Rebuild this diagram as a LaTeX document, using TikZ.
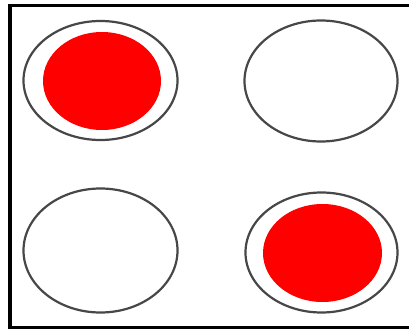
\documentclass[tikz,border=0pt]{standalone}
\usetikzlibrary{shapes.geometric}
\begin{document}
\begin{tikzpicture}[x=1pt,y=-1pt,
  ring/.style={ellipse,draw=black!72,line width=2.2pt,inner sep=0pt},
  dot/.style={ellipse,fill=red,draw=none,inner sep=0pt}]
\useasboundingbox (0,0) rectangle (409,329);
\clip (0,0) rectangle (409,329);
\fill[white] (0,0) rectangle (409,329);
\draw[line width=3.6pt] (10,5.5) rectangle (413,327.5);
\node[ring,minimum width=154pt,minimum height=119pt] (tl) at (100.5,80.5) {};
\node[dot,minimum width=118pt,minimum height=98pt] (tlr) at (102,81) {};
\node[ring,minimum width=153pt,minimum height=121pt] (tr) at (321,81) {};
\node[ring,minimum width=154pt,minimum height=124pt] (bl) at (100.5,250.5) {};
\node[ring,minimum width=152pt,minimum height=120pt] (br) at (321.5,252.5) {};
\node[dot,minimum width=119pt,minimum height=98pt] (brr) at (322.5,253) {};
\end{tikzpicture}
\end{document}
